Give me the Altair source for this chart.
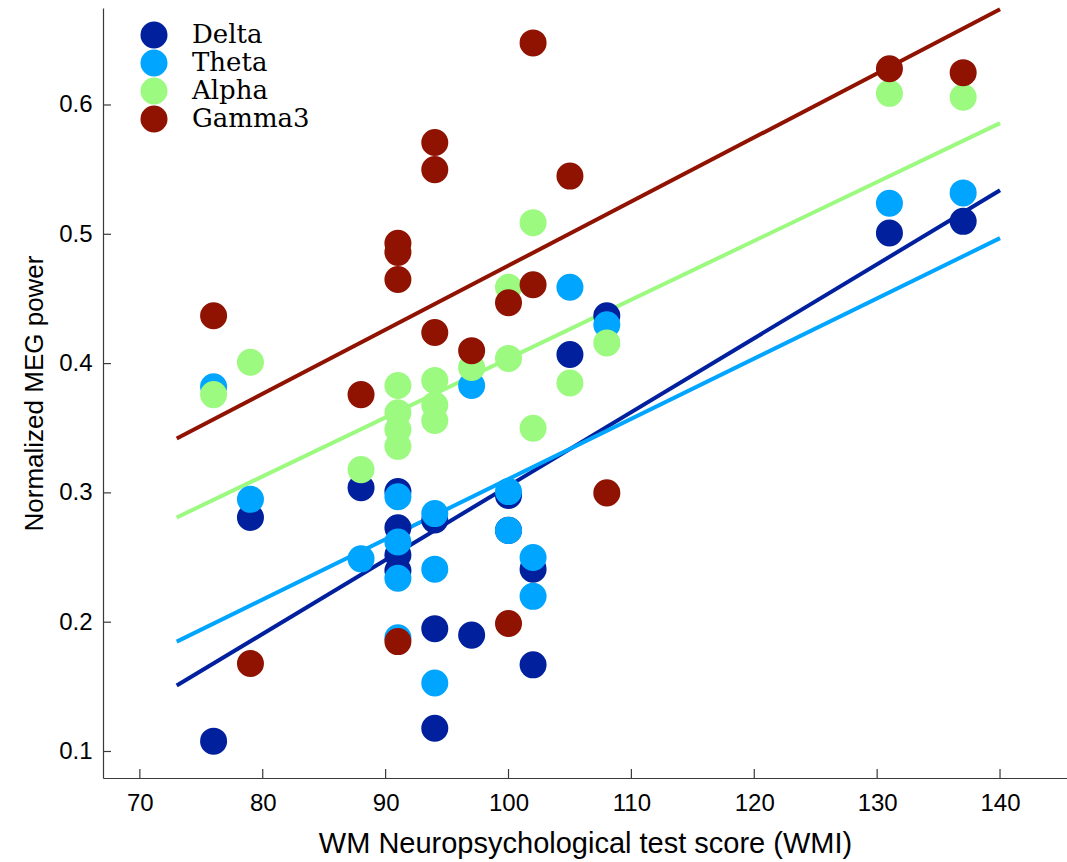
import altair as alt
import pandas as pd

# Frequency bands and their colours
bands = ["Delta", "Theta", "Alpha", "Gamma3"]
band_colors = ["#00209E", "#00A5FF", "#9CFA80", "#901200"]

# Working-memory index of each subject
wmi = [76, 79, 88, 91, 91, 91, 91, 94, 94, 94, 97, 100, 100, 102, 102, 105, 108, 131, 137]

# Normalized MEG power per band, one value per subject
delta = [0.108, 0.281, 0.304, 0.301, 0.273, 0.252, 0.240, 0.279, 0.195, 0.118,
         0.190, 0.298, 0.271, 0.241, 0.167, 0.407, 0.437, 0.501, 0.510]
theta = [0.382, 0.295, 0.249, 0.297, 0.262, 0.234, 0.188, 0.284, 0.241, 0.153,
         0.383, 0.301, 0.271, 0.250, 0.220, 0.459, 0.430, 0.524, 0.532]
alpha = [0.376, 0.401, 0.318, 0.383, 0.362, 0.349, 0.336, 0.387, 0.368, 0.356,
         0.397, 0.459, 0.404, 0.509, 0.350, 0.385, 0.416, 0.609, 0.606]
gamma3 = [0.437, 0.168, 0.376, 0.493, 0.486, 0.465, 0.185, 0.571, 0.550, 0.424,
          0.410, 0.447, 0.199, 0.648, 0.461, 0.545, 0.300, 0.628, 0.625]

# Least-squares fit lines, evaluated at their two ends
fit_x = [73, 140]
fit_delta = [0.151, 0.534]
fit_theta = [0.185, 0.497]
fit_alpha = [0.281, 0.586]
fit_gamma3 = [0.342, 0.674]

# Axis ticks
x_ticks = [70, 80, 90, 100, 110, 120, 130, 140]
y_ticks = [0.1, 0.2, 0.3, 0.4, 0.5, 0.6]

W, H = 964, 770
AXIS_COLOR = "#3a3a3a"
SANS = "Liberation Sans"

series = {"Delta": delta, "Theta": theta, "Alpha": alpha, "Gamma3": gamma3}
fits = {"Delta": fit_delta, "Theta": fit_theta, "Alpha": fit_alpha, "Gamma3": fit_gamma3}

points = pd.DataFrame(
    [{"band": b, "wmi": x, "power": v} for b in bands for x, v in zip(wmi, series[b])]
)
lines = pd.DataFrame(
    [{"band": b, "wmi": x, "power": v} for b in bands for x, v in zip(fit_x, fits[b])]
)

x_scale = alt.Scale(domain=[67, 145.45], nice=False, zero=False)
y_scale = alt.Scale(domain=[0.0795, 0.675], nice=False, zero=False)
color_scale = alt.Scale(domain=bands, range=band_colors)

axis_style = dict(
    ticks=False, grid=False,
    labelFont=SANS, labelFontSize=24, labelColor="black",
    titleFont=SANS, titleFontWeight="normal", titleColor="black",
    domainColor=AXIS_COLOR, domainWidth=1.2,
)
x_axis = alt.Axis(
    values=x_ticks, labelPadding=13, titlePadding=14, titleFontSize=29,
    title="WM Neuropsychological test score (WMI)", **axis_style,
)
y_axis = alt.Axis(
    values=y_ticks, labelPadding=11, titlePadding=11, titleFontSize=26, format=".1f",
    title="Normalized MEG power", **axis_style,
)

x_enc = alt.X("wmi:Q", scale=x_scale, axis=x_axis)
y_enc = alt.Y("power:Q", scale=y_scale, axis=y_axis)

fit_layer = alt.Chart(lines).mark_line(strokeWidth=4).encode(
    x=x_enc,
    y=y_enc,
    color=alt.Color("band:N", scale=color_scale, legend=None),
    detail="band:N",
)

point_layer = alt.Chart(points).mark_circle(size=730, opacity=1).encode(
    x=x_enc,
    y=y_enc,
    fill=alt.Fill(
        "band:N", scale=color_scale, sort=bands,
        legend=alt.Legend(
            title=None, orient="none", legendX=37, legendY=13, padding=0,
            symbolType="circle", symbolSize=730, symbolStrokeWidth=0,
            symbolOpacity=1, labelFont="DejaVu Serif", labelFontSize=26,
            labelColor="black", labelOffset=24, rowPadding=-2,
        ),
    ),
)

# inward tick marks on both axes
x_tick_layer = alt.Chart(pd.DataFrame({"t": x_ticks})).mark_rule(
    color=AXIS_COLOR, strokeWidth=1.2
).encode(x=alt.X("t:Q", scale=x_scale, axis=x_axis), y=alt.value(H), y2=alt.value(H - 9))

y_tick_layer = alt.Chart(pd.DataFrame({"t": y_ticks})).mark_rule(
    color=AXIS_COLOR, strokeWidth=1.2
).encode(y=alt.Y("t:Q", scale=y_scale, axis=y_axis), x=alt.value(0), x2=alt.value(8))

chart = (
    alt.layer(fit_layer, point_layer, x_tick_layer, y_tick_layer)
    .resolve_scale(color="independent", fill="independent")
    .properties(
        width=W, height=H,
        autosize=alt.AutoSizeParams(type="none"),
        padding={"left": 103, "top": 8, "right": 0, "bottom": 84},
    )
    .configure(background="white")
    .configure_view(stroke=None)
)

chart.save("out.html", embed_options={"renderer": "svg", "actions": False})
